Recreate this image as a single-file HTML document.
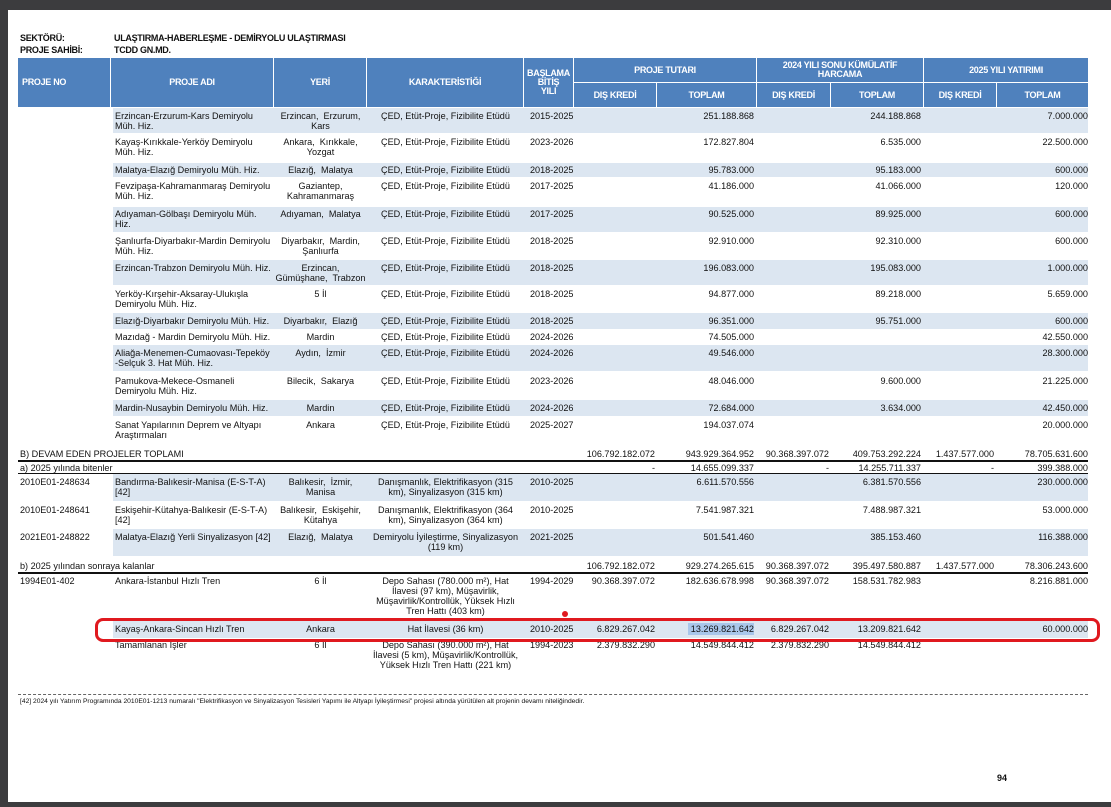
<!DOCTYPE html>
<html><head><meta charset="utf-8"><style>
*{margin:0;padding:0;box-sizing:border-box}
body{width:1111px;height:807px;background:#3c3c3e;position:relative;overflow:hidden;font-family:"Liberation Sans",Arial,sans-serif;color:#111}
#pg{position:absolute;left:8px;top:10px;width:1103px;height:792px;background:#fff}
.a{position:absolute;font-size:9.1px;line-height:10px;white-space:nowrap}
.h{position:absolute;background:#4f81bd;border-right:1px solid #fff;border-bottom:1px solid #fff;color:#fff;font-weight:bold;font-size:9px;line-height:9px;display:flex;align-items:center;justify-content:center;text-align:center;letter-spacing:-0.3px}
.s{position:absolute;left:113px;width:975px;background:#dce6f1}
.ad{left:115px}.ye{left:274px;width:93px;text-align:center}.ka{left:367px;width:157px;text-align:center}
.yl{left:530px}.n1{left:574px;width:81px;text-align:right}.n2{left:657px;width:97px;text-align:right}
.n3{left:757px;width:72px;text-align:right}.n4{left:831px;width:90px;text-align:right}
.n5{left:924px;width:70px;text-align:right}.n6{left:997px;width:91px;text-align:right}
.no{left:20px}
.ln{position:absolute;left:18px;width:1070px;height:1.5px;background:#111}
</style></head><body>
<div id="pg"></div>
<div class="a" style="left:20px;top:33px;font-weight:bold;font-size:9px;letter-spacing:-0.3px">SEKTÖRÜ:</div>
<div class="a" style="left:114px;top:33px;font-weight:bold;font-size:9px;letter-spacing:-0.3px">ULAŞTIRMA-HABERLEŞME - DEMİRYOLU ULAŞTIRMASI</div>
<div class="a" style="left:20px;top:45px;font-weight:bold;font-size:9px;letter-spacing:-0.3px">PROJE SAHİBİ:</div>
<div class="a" style="left:114px;top:45px;font-weight:bold;font-size:9px;letter-spacing:-0.3px">TCDD GN.MD.</div>

<div class="h" style="left:18px;top:58px;width:93px;height:50px;justify-content:flex-start;padding-left:4px">PROJE NO</div>
<div class="h" style="left:111px;top:58px;width:163px;height:50px">PROJE ADI</div>
<div class="h" style="left:274px;top:58px;width:93px;height:50px">YERİ</div>
<div class="h" style="left:367px;top:58px;width:157px;height:50px">KARAKTERİSTİĞİ</div>
<div class="h" style="left:524px;top:58px;width:50px;height:50px">BAŞLAMA<br>BİTİŞ<br>YILI</div>
<div class="h" style="left:574px;top:58px;width:183px;height:25px">PROJE TUTARI</div>
<div class="h" style="left:757px;top:58px;width:167px;height:25px">2024 YILI SONU KÜMÜLATİF<br>HARCAMA</div>
<div class="h" style="left:924px;top:58px;width:165px;height:25px">2025 YILI YATIRIMI</div>
<div class="h" style="left:574px;top:83px;width:83px;height:25px">DIŞ KREDİ</div>
<div class="h" style="left:657px;top:83px;width:100px;height:25px">TOPLAM</div>
<div class="h" style="left:757px;top:83px;width:74px;height:25px">DIŞ KREDİ</div>
<div class="h" style="left:831px;top:83px;width:93px;height:25px">TOPLAM</div>
<div class="h" style="left:924px;top:83px;width:73px;height:25px">DIŞ KREDİ</div>
<div class="h" style="left:997px;top:83px;width:92px;height:25px">TOPLAM</div>

<div class="s" style="top:108px;height:25px"></div>
<div class="s" style="top:163px;height:14px"></div>
<div class="s" style="top:207px;height:25px"></div>
<div class="s" style="top:260px;height:25px"></div>
<div class="s" style="top:313px;height:16px"></div>
<div class="s" style="top:345px;height:26px"></div>
<div class="s" style="top:400px;height:16px"></div>
<div class="s" style="top:474px;height:27px"></div>
<div class="s" style="top:529px;height:27px"></div>
<div class="s" style="top:621px;height:17px"></div>

<div class="a ad" style="top:111px">Erzincan-Erzurum-Kars Demiryolu<br>Müh. Hiz.</div><div class="a ye" style="top:111px">Erzincan,&nbsp; Erzurum,<br>Kars</div><div class="a ka" style="top:111px">ÇED, Etüt-Proje, Fizibilite Etüdü</div><div class="a yl" style="top:111px">2015-2025</div><div class="a n2" style="top:111px">251.188.868</div><div class="a n4" style="top:111px">244.188.868</div><div class="a n6" style="top:111px">7.000.000</div>
<div class="a ad" style="top:137px">Kayaş-Kırıkkale-Yerköy Demiryolu<br>Müh. Hiz.</div><div class="a ye" style="top:137px">Ankara,&nbsp; Kırıkkale,<br>Yozgat</div><div class="a ka" style="top:137px">ÇED, Etüt-Proje, Fizibilite Etüdü</div><div class="a yl" style="top:137px">2023-2026</div><div class="a n2" style="top:137px">172.827.804</div><div class="a n4" style="top:137px">6.535.000</div><div class="a n6" style="top:137px">22.500.000</div>
<div class="a ad" style="top:165px">Malatya-Elazığ Demiryolu Müh. Hiz.</div><div class="a ye" style="top:165px">Elazığ,&nbsp; Malatya</div><div class="a ka" style="top:165px">ÇED, Etüt-Proje, Fizibilite Etüdü</div><div class="a yl" style="top:165px">2018-2025</div><div class="a n2" style="top:165px">95.783.000</div><div class="a n4" style="top:165px">95.183.000</div><div class="a n6" style="top:165px">600.000</div>
<div class="a ad" style="top:181px">Fevzipaşa-Kahramanmaraş Demiryolu<br>Müh. Hiz.</div><div class="a ye" style="top:181px">Gaziantep,<br>Kahramanmaraş</div><div class="a ka" style="top:181px">ÇED, Etüt-Proje, Fizibilite Etüdü</div><div class="a yl" style="top:181px">2017-2025</div><div class="a n2" style="top:181px">41.186.000</div><div class="a n4" style="top:181px">41.066.000</div><div class="a n6" style="top:181px">120.000</div>
<div class="a ad" style="top:209px">Adıyaman-Gölbaşı Demiryolu Müh.<br>Hiz.</div><div class="a ye" style="top:209px">Adıyaman,&nbsp; Malatya</div><div class="a ka" style="top:209px">ÇED, Etüt-Proje, Fizibilite Etüdü</div><div class="a yl" style="top:209px">2017-2025</div><div class="a n2" style="top:209px">90.525.000</div><div class="a n4" style="top:209px">89.925.000</div><div class="a n6" style="top:209px">600.000</div>
<div class="a ad" style="top:236px">Şanlıurfa-Diyarbakır-Mardin Demiryolu<br>Müh. Hiz.</div><div class="a ye" style="top:236px">Diyarbakır,&nbsp; Mardin,<br>Şanlıurfa</div><div class="a ka" style="top:236px">ÇED, Etüt-Proje, Fizibilite Etüdü</div><div class="a yl" style="top:236px">2018-2025</div><div class="a n2" style="top:236px">92.910.000</div><div class="a n4" style="top:236px">92.310.000</div><div class="a n6" style="top:236px">600.000</div>
<div class="a ad" style="top:263px">Erzincan-Trabzon Demiryolu Müh. Hiz.</div><div class="a ye" style="top:263px">Erzincan,<br>Gümüşhane,&nbsp; Trabzon</div><div class="a ka" style="top:263px">ÇED, Etüt-Proje, Fizibilite Etüdü</div><div class="a yl" style="top:263px">2018-2025</div><div class="a n2" style="top:263px">196.083.000</div><div class="a n4" style="top:263px">195.083.000</div><div class="a n6" style="top:263px">1.000.000</div>
<div class="a ad" style="top:289px">Yerköy-Kırşehir-Aksaray-Ulukışla<br>Demiryolu Müh. Hiz.</div><div class="a ye" style="top:289px">5 İl</div><div class="a ka" style="top:289px">ÇED, Etüt-Proje, Fizibilite Etüdü</div><div class="a yl" style="top:289px">2018-2025</div><div class="a n2" style="top:289px">94.877.000</div><div class="a n4" style="top:289px">89.218.000</div><div class="a n6" style="top:289px">5.659.000</div>
<div class="a ad" style="top:316px">Elazığ-Diyarbakır Demiryolu Müh. Hiz.</div><div class="a ye" style="top:316px">Diyarbakır,&nbsp; Elazığ</div><div class="a ka" style="top:316px">ÇED, Etüt-Proje, Fizibilite Etüdü</div><div class="a yl" style="top:316px">2018-2025</div><div class="a n2" style="top:316px">96.351.000</div><div class="a n4" style="top:316px">95.751.000</div><div class="a n6" style="top:316px">600.000</div>
<div class="a ad" style="top:332px">Mazıdağ - Mardin Demiryolu Müh. Hiz.</div><div class="a ye" style="top:332px">Mardin</div><div class="a ka" style="top:332px">ÇED, Etüt-Proje, Fizibilite Etüdü</div><div class="a yl" style="top:332px">2024-2026</div><div class="a n2" style="top:332px">74.505.000</div><div class="a n6" style="top:332px">42.550.000</div>
<div class="a ad" style="top:348px">Aliağa-Menemen-Cumaovası-Tepeköy<br>-Selçuk 3. Hat Müh. Hiz.</div><div class="a ye" style="top:348px">Aydın,&nbsp; İzmir</div><div class="a ka" style="top:348px">ÇED, Etüt-Proje, Fizibilite Etüdü</div><div class="a yl" style="top:348px">2024-2026</div><div class="a n2" style="top:348px">49.546.000</div><div class="a n6" style="top:348px">28.300.000</div>
<div class="a ad" style="top:376px">Pamukova-Mekece-Osmaneli<br>Demiryolu Müh. Hiz.</div><div class="a ye" style="top:376px">Bilecik,&nbsp; Sakarya</div><div class="a ka" style="top:376px">ÇED, Etüt-Proje, Fizibilite Etüdü</div><div class="a yl" style="top:376px">2023-2026</div><div class="a n2" style="top:376px">48.046.000</div><div class="a n4" style="top:376px">9.600.000</div><div class="a n6" style="top:376px">21.225.000</div>
<div class="a ad" style="top:403px">Mardin-Nusaybin Demiryolu Müh. Hiz.</div><div class="a ye" style="top:403px">Mardin</div><div class="a ka" style="top:403px">ÇED, Etüt-Proje, Fizibilite Etüdü</div><div class="a yl" style="top:403px">2024-2026</div><div class="a n2" style="top:403px">72.684.000</div><div class="a n4" style="top:403px">3.634.000</div><div class="a n6" style="top:403px">42.450.000</div>
<div class="a ad" style="top:420px">Sanat Yapılarının Deprem ve Altyapı<br>Araştırmaları</div><div class="a ye" style="top:420px">Ankara</div><div class="a ka" style="top:420px">ÇED, Etüt-Proje, Fizibilite Etüdü</div><div class="a yl" style="top:420px">2025-2027</div><div class="a n2" style="top:420px">194.037.074</div><div class="a n6" style="top:420px">20.000.000</div>

<div class="a no" style="top:449px">B) DEVAM EDEN PROJELER TOPLAMI</div><div class="a n1" style="top:449px">106.792.182.072</div><div class="a n2" style="top:449px">943.929.364.952</div><div class="a n3" style="top:449px">90.368.397.072</div><div class="a n4" style="top:449px">409.753.292.224</div><div class="a n5" style="top:449px">1.437.577.000</div><div class="a n6" style="top:449px">78.705.631.600</div>
<div class="ln" style="top:460px"></div>
<div class="a no" style="top:463px">a) 2025 yılında bitenler</div><div class="a n1" style="top:463px">-</div><div class="a n2" style="top:463px">14.655.099.337</div><div class="a n3" style="top:463px">-</div><div class="a n4" style="top:463px">14.255.711.337</div><div class="a n5" style="top:463px">-</div><div class="a n6" style="top:463px">399.388.000</div>
<div class="ln" style="top:473px;height:1px"></div>
<div class="a no" style="top:477px">2010E01-248634</div><div class="a ad" style="top:477px">Bandırma-Balıkesir-Manisa (E-S-T-A)<br>[42]</div><div class="a ye" style="top:477px">Balıkesir,&nbsp; İzmir,<br>Manisa</div><div class="a ka" style="top:477px">Danışmanlık, Elektrifikasyon (315<br>km), Sinyalizasyon (315 km)</div><div class="a yl" style="top:477px">2010-2025</div><div class="a n2" style="top:477px">6.611.570.556</div><div class="a n4" style="top:477px">6.381.570.556</div><div class="a n6" style="top:477px">230.000.000</div>
<div class="a no" style="top:505px">2010E01-248641</div><div class="a ad" style="top:505px">Eskişehir-Kütahya-Balıkesir (E-S-T-A)<br>[42]</div><div class="a ye" style="top:505px">Balıkesir,&nbsp; Eskişehir,<br>Kütahya</div><div class="a ka" style="top:505px">Danışmanlık, Elektrifikasyon (364<br>km), Sinyalizasyon (364 km)</div><div class="a yl" style="top:505px">2010-2025</div><div class="a n2" style="top:505px">7.541.987.321</div><div class="a n4" style="top:505px">7.488.987.321</div><div class="a n6" style="top:505px">53.000.000</div>
<div class="a no" style="top:532px">2021E01-248822</div><div class="a ad" style="top:532px">Malatya-Elazığ Yerli Sinyalizasyon [42]</div><div class="a ye" style="top:532px">Elazığ,&nbsp; Malatya</div><div class="a ka" style="top:532px">Demiryolu İyileştirme, Sinyalizasyon<br>(119 km)</div><div class="a yl" style="top:532px">2021-2025</div><div class="a n2" style="top:532px">501.541.460</div><div class="a n4" style="top:532px">385.153.460</div><div class="a n6" style="top:532px">116.388.000</div>
<div class="a no" style="top:561px">b) 2025 yılından sonraya kalanlar</div><div class="a n1" style="top:561px">106.792.182.072</div><div class="a n2" style="top:561px">929.274.265.615</div><div class="a n3" style="top:561px">90.368.397.072</div><div class="a n4" style="top:561px">395.497.580.887</div><div class="a n5" style="top:561px">1.437.577.000</div><div class="a n6" style="top:561px">78.306.243.600</div>
<div class="ln" style="top:572px"></div>
<div class="a no" style="top:576px">1994E01-402</div><div class="a ad" style="top:576px">Ankara-İstanbul Hızlı Tren</div><div class="a ye" style="top:576px">6 İl</div><div class="a ka" style="top:576px">Depo Sahası (780.000 m²), Hat<br>İlavesi (97 km), Müşavirlik,<br>Müşavirlik/Kontrollük, Yüksek Hızlı<br>Tren Hattı (403 km)</div><div class="a yl" style="top:576px">1994-2029</div><div class="a n1" style="top:576px">90.368.397.072</div><div class="a n2" style="top:576px">182.636.678.998</div><div class="a n3" style="top:576px">90.368.397.072</div><div class="a n4" style="top:576px">158.531.782.983</div><div class="a n6" style="top:576px">8.216.881.000</div>
<div style="position:absolute;left:688px;top:623px;width:66px;height:12px;background:#a9c6ea"></div>
<div class="a ad" style="top:624px">Kayaş-Ankara-Sincan Hızlı Tren</div><div class="a ye" style="top:624px">Ankara</div><div class="a ka" style="top:624px">Hat İlavesi (36 km)</div><div class="a yl" style="top:624px">2010-2025</div><div class="a n1" style="top:624px">6.829.267.042</div><div class="a n2" style="top:624px">13.269.821.642</div><div class="a n3" style="top:624px">6.829.267.042</div><div class="a n4" style="top:624px">13.209.821.642</div><div class="a n6" style="top:624px">60.000.000</div>
<div class="a ad" style="top:640px">Tamamlanan İşler</div><div class="a ye" style="top:640px">6 İl</div><div class="a ka" style="top:640px">Depo Sahası (390.000 m²), Hat<br>İlavesi (5 km), Müşavirlik/Kontrollük,<br>Yüksek Hızlı Tren Hattı (221 km)</div><div class="a yl" style="top:640px">1994-2023</div><div class="a n1" style="top:640px">2.379.832.290</div><div class="a n2" style="top:640px">14.549.844.412</div><div class="a n3" style="top:640px">2.379.832.290</div><div class="a n4" style="top:640px">14.549.844.412</div>
<div style="position:absolute;left:95px;top:618px;width:1005px;height:24px;border:3.5px solid #e0191f;border-radius:8px"></div>
<div style="position:absolute;left:562px;top:611px;width:6px;height:6px;background:#e0191f;border-radius:50%"></div>
<div style="position:absolute;left:18px;top:694px;width:1070px;border-top:1px dashed #666"></div>
<div class="a" style="left:20px;top:698px;font-size:6.7px;line-height:7px">[42] 2024 yılı Yatırım Programında 2010E01-1213 numaralı "Elektrifikasyon ve Sinyalizasyon Tesisleri Yapımı ile Altyapı İyileştirmesi" projesi altında yürütülen alt projenin devamı niteliğindedir.</div>
<div class="a" style="left:997px;top:773px;font-weight:bold;font-size:9px">94</div>
</body></html>
